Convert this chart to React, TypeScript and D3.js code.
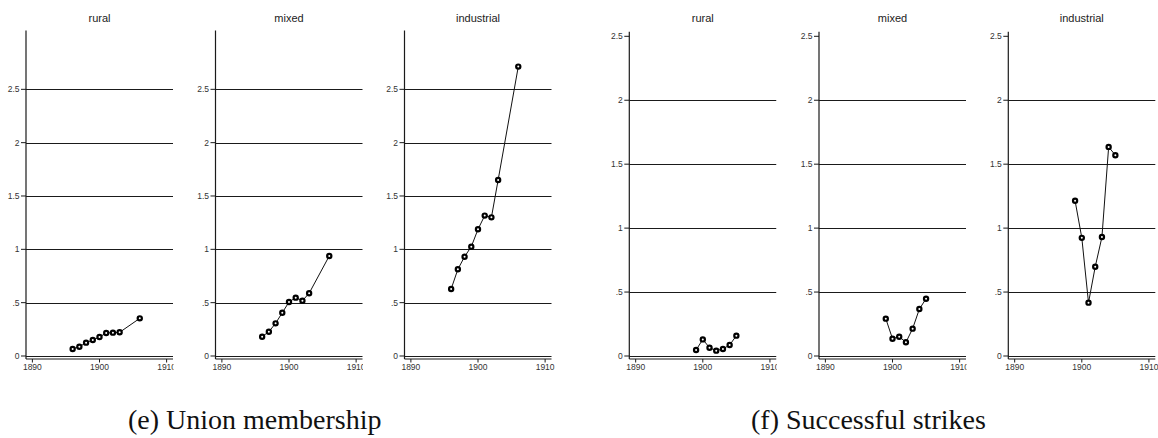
import React from "react";
import * as d3 from "d3";

const categories = ["rural", "mixed", "industrial"];
const xTicks = [1890, 1900, 1910];
const yTicks = [0, 0.5, 1, 1.5, 2, 2.5];
const yTickLabels = ["0", ".5", "1", "1.5", "2", "2.5"];

const unionYears = [1896, 1897, 1898, 1899, 1900, 1901, 1902, 1903, 1906];
const unionRural = [0.066, 0.087, 0.125, 0.15, 0.178, 0.216, 0.219, 0.222, 0.353];
const unionMixed = [0.181, 0.228, 0.306, 0.406, 0.506, 0.547, 0.519, 0.588, 0.938];
const unionIndustrial = [0.628, 0.813, 0.931, 1.025, 1.188, 1.316, 1.3, 1.65, 2.713];

const strikeYears = [1899, 1900, 1901, 1902, 1903, 1904, 1905];
const strikesRural = [0.047, 0.13, 0.065, 0.042, 0.055, 0.086, 0.159];
const strikesMixed = [0.292, 0.135, 0.151, 0.107, 0.214, 0.367, 0.448];
const strikesIndustrial = [1.214, 0.924, 0.417, 0.698, 0.93, 1.635, 1.57];

const captionE = "(e) Union membership";
const captionF = "(f) Successful strikes";

const W = 1158;
const H = 438;
const PLOT_W = 147;
const Y0 = 356;
const X_AXIS_Y = 359;
const labelFont = "'Liberation Sans', Arial, sans-serif";

type PanelProps = {
  axisX: number;
  title: string;
  years: number[];
  values: number[];
  yTop: number;
  axisTop: number;
  gridTop: boolean;
  clip: boolean;
  id: string;
};

function Panel({ axisX, title, years, values, yTop, axisTop, gridTop, clip, id }: PanelProps) {
  const x = d3.scaleLinear().domain([1889.05, 1910.95]).range([axisX, axisX + PLOT_W]);
  const y = d3.scaleLinear().domain([0, 2.5]).range([Y0, yTop]);
  const pts = years.map((yr, i) => [x(yr), y(values[i])] as [number, number]);
  const line = d3.line()(pts) || "";
  const gridVals = gridTop ? yTicks : yTicks.filter((v) => v < 2.5);
  const clipId = `clip-${id}`;
  return (
    <g>
      <defs>
        <clipPath id={clipId}>
          <rect x={axisX - 30} y={0} width={PLOT_W + 30.5} height={H} />
        </clipPath>
      </defs>
      <g clipPath={clip ? `url(#${clipId})` : undefined}>
        <text
          x={(axisX + axisX + PLOT_W) / 2}
          y={22}
          textAnchor="middle"
          fontFamily={labelFont}
          fontSize={11}
          fill="#222"
        >
          {title}
        </text>
        {gridVals.map((v) => (
          <line
            key={`g${v}`}
            x1={axisX}
            x2={axisX + PLOT_W}
            y1={Math.round(y(v)) + 0.5}
            y2={Math.round(y(v)) + 0.5}
            stroke="#1a1a1a"
            strokeWidth={1}
          />
        ))}
        <line x1={axisX} x2={axisX} y1={axisTop} y2={X_AXIS_Y} stroke="#1a1a1a" strokeWidth={1.2} />
        {yTicks.map((v, i) => (
          <g key={`yt${v}`}>
            <line x1={axisX - 5} x2={axisX} y1={y(v)} y2={y(v)} stroke="#1a1a1a" strokeWidth={1} />
            <text
              x={axisX - 6.5}
              y={y(v) + 3}
              textAnchor="end"
              fontFamily={labelFont}
              fontSize={8.5}
              fill="#333"
            >
              {yTickLabels[i]}
            </text>
          </g>
        ))}
        <line x1={axisX} x2={axisX + PLOT_W} y1={X_AXIS_Y} y2={X_AXIS_Y} stroke="#1a1a1a" strokeWidth={1.2} />
        {xTicks.map((v) => (
          <g key={`xt${v}`}>
            <line x1={x(v)} x2={x(v)} y1={X_AXIS_Y} y2={X_AXIS_Y + 3.5} stroke="#1a1a1a" strokeWidth={1} />
            <text
              x={x(v)}
              y={X_AXIS_Y + 10.5}
              textAnchor="middle"
              fontFamily={labelFont}
              fontSize={8.5}
              fill="#333"
            >
              {v}
            </text>
          </g>
        ))}
        <path d={line} fill="none" stroke="#111" strokeWidth={1} />
        {pts.map((p, i) => (
          <circle key={`p${i}`} cx={p[0]} cy={p[1]} r={2.1} fill="#fff" stroke="#000" strokeWidth={2.2} />
        ))}
      </g>
    </g>
  );
}

export default function App() {
  const eAxes = [26, 215.5, 404.5];
  const fAxes = [629.3, 819, 1008.3];
  const eVals = [unionRural, unionMixed, unionIndustrial];
  const fVals = [strikesRural, strikesMixed, strikesIndustrial];
  return (
    <svg
      width={W}
      height={H}
      viewBox={`0 0 ${W} ${H}`}
      style={{ position: "absolute", left: 0, top: 0, background: "#fff" }}
    >
      <rect x={0} y={0} width={W} height={H} fill="#fff" />
      {categories.map((c, i) => (
        <Panel
          key={`e${c}`}
          id={`e${i}`}
          axisX={eAxes[i]}
          title={c}
          years={unionYears}
          values={eVals[i]}
          yTop={89.33}
          axisTop={30.5}
          gridTop={true}
          clip={i < 2}
        />
      ))}
      {categories.map((c, i) => (
        <Panel
          key={`f${c}`}
          id={`f${i}`}
          axisX={fAxes[i]}
          title={c}
          years={strikeYears}
          values={fVals[i]}
          yTop={36.3}
          axisTop={31.7}
          gridTop={false}
          clip={i < 2}
        />
      ))}
      <text x={128} y={429} fontFamily="'Liberation Serif', 'Times New Roman', serif" fontSize={28} fill="#111">
        {captionE}
      </text>
      <text x={751} y={429} fontFamily="'Liberation Serif', 'Times New Roman', serif" fontSize={28} fill="#111">
        {captionF}
      </text>
    </svg>
  );
}
